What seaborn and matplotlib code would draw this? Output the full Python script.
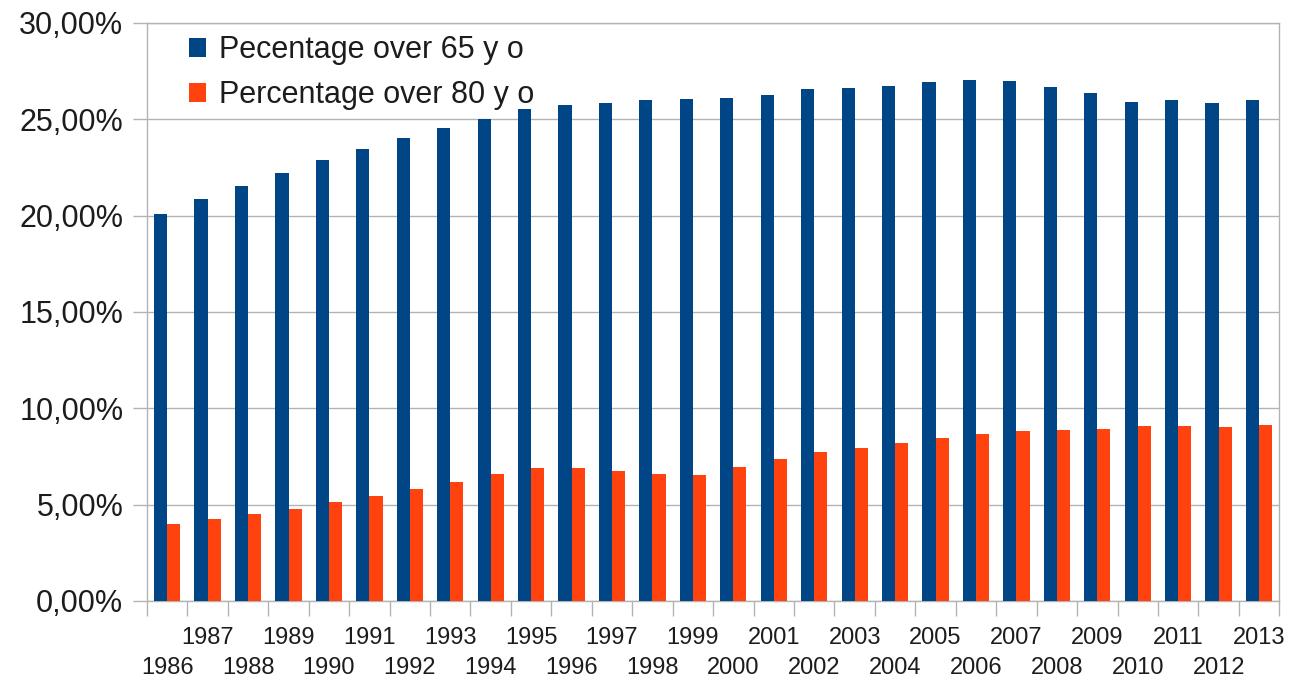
import matplotlib
matplotlib.use("Agg")
import matplotlib.pyplot as plt
from matplotlib.ticker import FuncFormatter, FixedLocator
import seaborn as sns
import pandas as pd

# Share of population by age group, 1986-2013 (percent)
years = [str(y) for y in range(1986, 2014)]
over_65 = [20.09, 20.87, 21.55, 22.20, 22.87, 23.45, 24.04, 24.56, 25.03, 25.52,
           25.75, 25.85, 25.98, 26.03, 26.10, 26.26, 26.57, 26.60, 26.74, 26.95,
           27.02, 26.99, 26.67, 26.36, 25.92, 25.98, 25.87, 25.99]
over_80 = [3.97, 4.23, 4.51, 4.79, 5.12, 5.43, 5.80, 6.18, 6.57, 6.88,
           6.90, 6.76, 6.57, 6.55, 6.95, 7.37, 7.73, 7.94, 8.20, 8.44,
           8.65, 8.84, 8.88, 8.93, 9.07, 9.09, 9.03, 9.12]
series_names = ["Pecentage over 65 y o", "Percentage over 80 y o"]
colors = ["#004586", "#ff420e"]
y_ticks = [0, 5, 10, 15, 20, 25, 30]

df = pd.DataFrame({
    "year": years * 2,
    "series": [series_names[0]] * len(years) + [series_names[1]] * len(years),
    "value": over_65 + over_80,
})

sns.set_theme(style="white")
plt.rcParams["font.family"] = ["Liberation Sans", "DejaVu Sans"]
text_color = "#1c1c1c"
line_color = "#b3b3b3"

fig = plt.figure(figsize=(13.03, 6.8), dpi=100)
ax = fig.add_axes([0.1128, 0.1162, 0.869, 0.850])

sns.barplot(data=df, x="year", y="value", hue="series", hue_order=series_names,
            palette=colors, saturation=1, width=0.65, ax=ax, linewidth=0,
            zorder=3)

ax.set_xlim(-0.5, len(years) - 0.5)
ax.set_ylim(0, 30)
ax.set_xlabel("")
ax.set_ylabel("")

# y axis: percent labels with comma decimal separator
ax.yaxis.set_major_locator(FixedLocator(y_ticks))
ax.yaxis.set_major_formatter(FuncFormatter(lambda v, p: f"{v:.2f}%".replace(".", ",")))
ax.tick_params(axis="y", which="major", length=10, width=1, color=line_color,
               direction="out", pad=7, labelsize=22, labelcolor=text_color, left=True)
ax.yaxis.grid(True, color=line_color, linewidth=1, zorder=0)
ax.set_axisbelow(True)

# x axis: odd years on the upper row, even years on a lower row,
# tick marks drawn at category boundaries
odd_pos = [i for i in range(len(years)) if i % 2 == 1]
even_pos = [i for i in range(len(years)) if i % 2 == 0]
ax.set_xticks(odd_pos)
ax.set_xticklabels([years[i] for i in odd_pos])
ax.set_xticks([i - 0.5 for i in range(len(years) + 1)], minor=True)
ax.tick_params(axis="x", which="major", length=0, pad=19, labelsize=17,
               labelcolor=text_color)
ax.tick_params(axis="x", which="minor", length=11, width=1, color=line_color,
               direction="out", bottom=True)

lower = ax.secondary_xaxis("bottom")
lower.set_xticks(even_pos)
lower.set_xticklabels([years[i] for i in even_pos])
lower.tick_params(axis="x", which="both", length=0, pad=40, labelsize=17,
                  labelcolor=text_color)
lower.spines["bottom"].set_visible(False)

for side in ["left", "bottom", "top", "right"]:
    ax.spines[side].set_visible(True)
    ax.spines[side].set_color(line_color)
    ax.spines[side].set_linewidth(1)

handles, labels = ax.get_legend_handles_labels()
if ax.get_legend() is not None:
    ax.get_legend().remove()
ax.legend(handles, labels, loc="upper left", bbox_to_anchor=(0.026, 1.0),
          frameon=False, fontsize=22, handlelength=0.58, handleheight=0.58,
          handletextpad=0.42, labelspacing=0.48, borderaxespad=0,
          labelcolor=text_color)

fig.savefig("out.png", dpi=100, facecolor="white")
